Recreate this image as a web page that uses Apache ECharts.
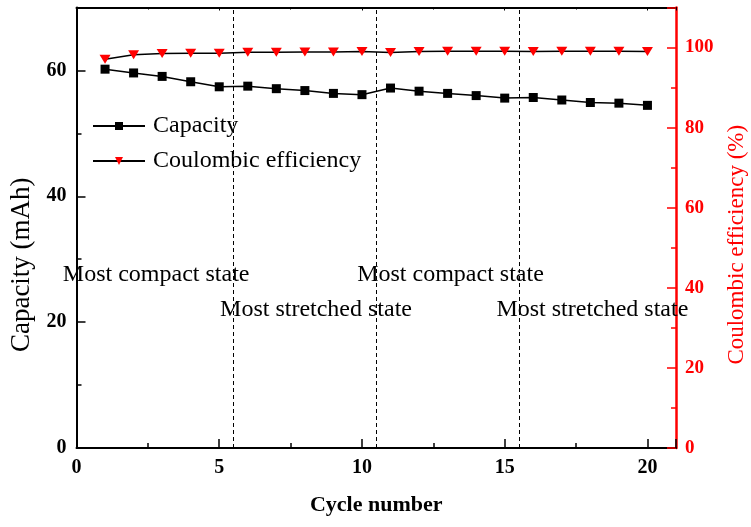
<!DOCTYPE html>
<html>
<head>
<meta charset="utf-8">
<script src="https://cdn.jsdelivr.net/npm/echarts@6/dist/echarts.min.js"></script>
<style>
  html, body { margin: 0; padding: 0; background: #fff; }
  #chart { width: 751px; height: 527px; }
</style>
</head>
<body>
<div id="chart"></div>
<script>
// Cycle numbers and measured values
const cycles = [1, 2, 3, 4, 5, 6, 7, 8, 9, 10, 11, 12, 13, 14, 15, 16, 17, 18, 19, 20];
const capacity = [60.2, 59.6, 59.05, 58.2, 57.4, 57.5, 57.1, 56.8, 56.35, 56.15,
                  57.2, 56.7, 56.35, 56.0, 55.6, 55.7, 55.3, 54.9, 54.8, 54.45];
const efficiency = [97.1, 98.2, 98.5, 98.6, 98.6, 98.8, 98.8, 98.9, 98.9, 99.0,
                    98.75, 99.0, 99.1, 99.1, 99.1, 99.0, 99.1, 99.1, 99.1, 99.0];
// Boundaries between the compact and stretched states
const stateBounds = [5.5, 10.5, 15.5];
// State annotations: [cycle, capacity, text]
const stateNotes = [
  [2.79, 27.6, 'Most compact state'],
  [8.39, 22.0, 'Most stretched state'],
  [13.1, 27.6, 'Most compact state'],
  [18.07, 22.0, 'Most stretched state']
];

const FONT = '"Liberation Serif", "DejaVu Serif", serif';
const RED = '#ff0000';
const downTriangle = 'path://M0,0 L10,0 L5,8.5 Z';

const chart = echarts.init(document.getElementById('chart'), null, { renderer: 'canvas' });

chart.setOption({
  animation: false,
  backgroundColor: '#fff',
  grid: { left: 76.5, right: 75, top: 7.5, bottom: 79, containLabel: false, outerBoundsMode: 'none' },
  legend: {
    orient: 'vertical',
    left: 87,
    top: 109,
    itemWidth: 52,
    itemHeight: 10,
    itemGap: 11,
    textStyle: { fontFamily: FONT, fontSize: 24, color: '#000', padding: [0, 0, 0, 3] },
    data: [
      { name: 'Capacity' },
      { name: 'Coulombic efficiency' }
    ]
  },
  xAxis: [
    {
      type: 'value',
      min: 0, max: 21, interval: 5,
      name: 'Cycle number',
      nameLocation: 'middle',
      nameGap: 46,
      nameTextStyle: { fontFamily: FONT, fontSize: 22, fontWeight: 'bold', color: '#000' },
      axisLine: { onZero: false, lineStyle: { color: '#000', width: 2 } },
      axisTick: { inside: true, length: 9, lineStyle: { color: '#000', width: 1.5 } },
      minorTick: { show: true, splitNumber: 2, length: 5, lineStyle: { color: '#000', width: 1.5 } },
      axisLabel: {
        fontFamily: FONT, fontSize: 20, fontWeight: 'bold', color: '#000', margin: 10,
        showMaxLabel: false
      },
      splitLine: { show: false }
    },
    {
      type: 'value',
      position: 'top',
      min: 0, max: 21, interval: 5,
      axisLine: { onZero: false, lineStyle: { color: '#000', width: 2 } },
      axisTick: { inside: true, length: 3, lineStyle: { color: '#000', width: 1 } },
      minorTick: { show: true, splitNumber: 2, length: 2, lineStyle: { color: '#000', width: 1 } },
      axisLabel: { show: false },
      splitLine: { show: false }
    }
  ],
  yAxis: [
    {
      type: 'value',
      position: 'left',
      min: 0, max: 70, interval: 20,
      name: 'Capacity (mAh)',
      nameLocation: 'middle',
      nameGap: 41,
      nameTextStyle: { fontFamily: FONT, fontSize: 27, color: '#000', padding: [0, 74, 0, 0] },
      axisLine: { show: true, onZero: false, lineStyle: { color: '#000', width: 2 } },
      axisTick: { inside: true, length: 9, lineStyle: { color: '#000', width: 1.5 } },
      minorTick: { show: true, splitNumber: 2, length: 5, lineStyle: { color: '#000', width: 1.5 } },
      axisLabel: { fontFamily: FONT, fontSize: 20, fontWeight: 'bold', color: '#000', margin: 10, showMaxLabel: false },
      splitLine: { show: false }
    },
    {
      type: 'value',
      position: 'right',
      min: 0, max: 110, interval: 20,
      name: 'Coulombic efficiency (%)',
      nameLocation: 'middle',
      nameGap: 49,
      nameRotate: 90,
      nameTextStyle: { fontFamily: FONT, fontSize: 23, color: RED, padding: [0, 34, 0, 0] },
      axisLine: { show: true, onZero: false, lineStyle: { color: RED, width: 2.5 } },
      axisTick: { inside: true, length: 9, lineStyle: { color: RED, width: 1.5 } },
      minorTick: { show: true, splitNumber: 2, length: 5, lineStyle: { color: RED, width: 1.5 } },
      axisLabel: { fontFamily: FONT, fontSize: 19, fontWeight: 'bold', color: RED, margin: 9, showMaxLabel: false },
      splitLine: { show: false }
    }
  ],
  series: [
    {
      name: 'Capacity',
      type: 'line',
      xAxisIndex: 0,
      yAxisIndex: 0,
      data: cycles.map((c, i) => [c, capacity[i]]),
      symbol: 'rect',
      symbolSize: 9,
      itemStyle: { color: '#000' },
      lineStyle: { color: '#000', width: 1.5 },
      markLine: {
        silent: true,
        symbol: 'none',
        label: { show: false },
        lineStyle: { color: '#000', width: 1, type: [4, 3] },
        data: stateBounds.map(v => ({ xAxis: v }))
      },
      markPoint: {
        silent: true,
        symbol: 'circle',
        symbolSize: 0,
        label: {
          show: true,
          position: 'inside',
          fontFamily: FONT,
          fontSize: 24,
          color: '#000',
          formatter: p => p.name
        },
        data: stateNotes.map(n => ({ name: n[2], coord: [n[0], n[1]] }))
      }
    },
    {
      name: 'Coulombic efficiency',
      type: 'line',
      xAxisIndex: 0,
      yAxisIndex: 1,
      data: cycles.map((c, i) => [c, efficiency[i]]),
      symbol: downTriangle,
      symbolSize: [11, 9],
      itemStyle: { color: RED },
      lineStyle: { color: '#000', width: 1.5 }
    }
  ]
});
</script>
</body>
</html>
